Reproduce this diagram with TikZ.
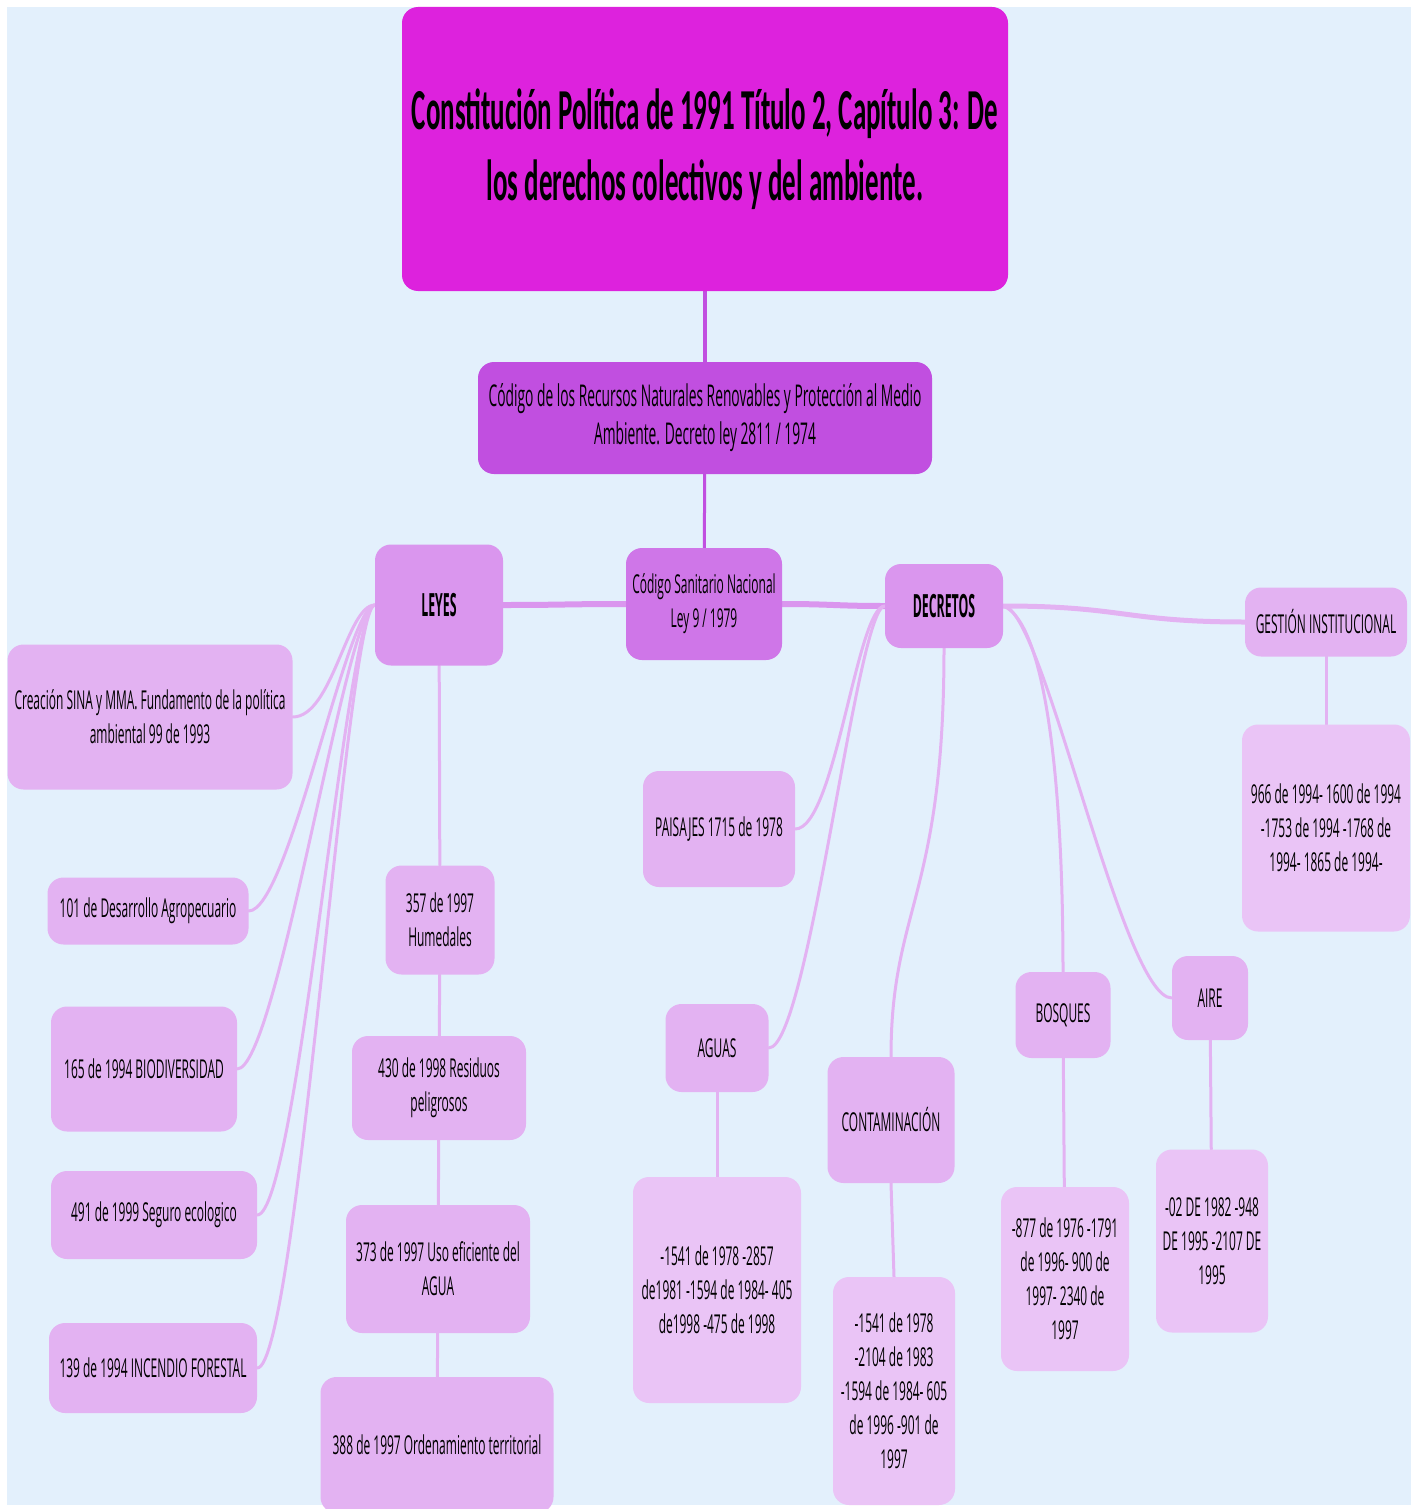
\documentclass[tikz,border=0pt]{standalone}
\usepackage{fontspec}
\setmainfont{Open Sans}[FakeStretch=0.46]
\newfontfamily\titlefont{Carlito}[FakeStretch=0.465]
\newfontfamily\headfont{Open Sans}[FakeStretch=0.385]
\usetikzlibrary{positioning, backgrounds}
\definecolor{skyback}{RGB}{227,240,252}
\definecolor{titlemagenta}{RGB}{221,34,221}
\definecolor{codepurple}{RGB}{193,79,224}
\definecolor{healthpurple}{RGB}{207,118,232}
\definecolor{branchlilac}{RGB}{218,150,238}
\definecolor{twiglilac}{RGB}{227,178,242}
\definecolor{leaflilac}{RGB}{234,196,246}

\tikzset{
  box/.style={rounded corners=16pt, align=center, inner sep=2pt, text=black,
    font=\fontsize{26}{34}\selectfont},
  headbox/.style={box, fill=branchlilac, font=\headfont\bfseries\fontsize{32}{36}\selectfont},
  twigbox/.style={box, fill=twiglilac},
  leafbox/.style={box, fill=leaflilac},
  twig/.style={draw=twiglilac, line width=3pt, line cap=round},
  branch/.style={draw=branchlilac, line width=6pt, line cap=round}
}

\begin{document}
\begin{tikzpicture}[x=1pt, y=-1pt]
  \useasboundingbox (0,0) rectangle (1418,1509);
  \clip (0,0) rectangle (1418,1509);
  \begin{scope}[on background layer]
    \fill[white] (0,0) rectangle (1418,1509);
    \fill[skyback] (7,7) rectangle (1411,1505);
  \end{scope}

  % top of the map
  \node[box, fill=titlemagenta, minimum width=606pt, minimum height=284pt,
    font=\titlefont\bfseries\fontsize{58}{71}\selectfont] (titulo) at (705,149)
    {Constitución Política de 1991 Título 2, Capítulo 3: De\\ los derechos colectivos y del ambiente.};
  \node[box, fill=codepurple, minimum width=454pt, minimum height=112pt,
    font=\fontsize{30}{38}\selectfont] (codigo) at (705,418)
    {Código de los Recursos Naturales Renovables y Protección al Medio\\ Ambiente. Decreto ley 2811 / 1974};
  \node[box, fill=healthpurple, minimum width=156pt, minimum height=112pt] (sanitario) at (704,604)
    {Código Sanitario Nacional\\ Ley 9 / 1979};
  \node[headbox, minimum width=128pt, minimum height=121pt] (leyes) at (439,605) {LEYES};
  \node[headbox, minimum width=118pt, minimum height=84pt] (decretos) at (944,606) {DECRETOS};

  % leyes
  \node[twigbox, minimum width=285pt, minimum height=145pt] (sina) at (150,717)
    {Creación SINA y MMA. Fundamento de la política\\ ambiental 99 de 1993};
  \node[twigbox, minimum width=201pt, minimum height=67pt] (agro) at (148,911) {101 de Desarrollo Agropecuario};
  \node[twigbox, minimum width=186pt, minimum height=125pt] (biodiv) at (144,1069) {165 de 1994 BIODIVERSIDAD};
  \node[twigbox, minimum width=206pt, minimum height=88pt] (seguro) at (154,1215) {491 de 1999 Seguro ecologico};
  \node[twigbox, minimum width=208pt, minimum height=90pt] (incendio) at (153,1368) {139 de 1994 INCENDIO FORESTAL};
  \node[twigbox, minimum width=109pt, minimum height=109pt] (humedales) at (440,920) {357 de 1997\\ Humedales};
  \node[twigbox, minimum width=174pt, minimum height=104pt] (residuos) at (439,1088) {430 de 1998 Residuos\\ peligrosos};
  \node[twigbox, minimum width=184pt, minimum height=128pt] (agua) at (438,1269) {373 de 1997 Uso eficiente del\\ AGUA};
  \node[twigbox, minimum width=233pt, minimum height=136pt] (ordenamiento) at (437,1445) {388 de 1997 Ordenamiento territorial};

  % decretos
  \node[twigbox, minimum width=162pt, minimum height=69pt] (gestion) at (1326,622) {GESTIÓN INSTITUCIONAL};
  \node[leafbox, minimum width=168pt, minimum height=207pt] (gestionlista) at (1326,828)
    {966 de 1994- 1600 de 1994\\ -1753 de 1994 -1768 de\\ 1994- 1865 de 1994-};
  \node[twigbox, minimum width=152pt, minimum height=116pt] (paisajes) at (719,829) {PAISAJES 1715 de 1978};
  \node[twigbox, minimum width=103pt, minimum height=88pt] (aguas) at (717,1048) {AGUAS};
  \node[leafbox, minimum width=168pt, minimum height=226pt] (aguaslista) at (717,1290)
    {-1541 de 1978 -2857\\ de1981 -1594 de 1984- 405\\ de1998 -475 de 1998};
  \node[twigbox, minimum width=127pt, minimum height=126pt] (contaminacion) at (891,1120) {CONTAMINACIÓN};
  \node[leafbox, minimum width=122pt, minimum height=228pt] (contaminacionlista) at (894,1391)
    {-1541 de 1978\\ -2104 de 1983\\ -1594 de 1984- 605\\ de 1996 -901 de\\ 1997};
  \node[twigbox, minimum width=95pt, minimum height=86pt] (bosques) at (1063,1015) {BOSQUES};
  \node[leafbox, minimum width=128pt, minimum height=184pt] (bosqueslista) at (1065,1279)
    {-877 de 1976 -1791\\ de 1996- 900 de\\ 1997- 2340 de\\ 1997};
  \node[twigbox, minimum width=76pt, minimum height=84pt] (aire) at (1210,998) {AIRE};
  \node[leafbox, minimum width=112pt, minimum height=183pt] (airelista) at (1212,1241)
    {-02 DE 1982 -948\\ DE 1995 -2107 DE\\ 1995};

  \begin{scope}[on background layer]
    \draw[draw=codepurple, line width=4pt] (titulo) -- (codigo);
    \draw[draw=codepurple, line width=3pt] (codigo) -- (sanitario);
    \draw[branch] (sanitario.west) .. controls +(-60,0) and +(60,0) .. (leyes.east);
    \draw[branch] (sanitario.east) .. controls +(50,0) and +(-50,0) .. (decretos.west);
    \draw[twig, line width=5pt] (decretos.east) .. controls +(120,0) and +(-120,0) .. (gestion.west);
    \draw[twig] (gestion) -- (gestionlista);
    \foreach \kid in {sina,agro,biodiv,seguro,incendio}
      \draw[twig] (leyes.west) .. controls +(-28,0) and ([xshift=40pt]\kid.east) .. (\kid.east);
    \draw[twig] (leyes) -- (humedales) -- (residuos) -- (agua) -- (ordenamiento);
    \foreach \kid in {paisajes,aguas}
      \draw[twig] (decretos.west) .. controls +(-28,0) and ([xshift=40pt]\kid.east) .. (\kid.east);
    \draw[twig] (decretos.south) .. controls +(0,250) and +(0,-150) .. (contaminacion.north);
    \draw[twig] (decretos.east) .. controls +(37,14) and +(0,-222) .. (bosques.north);
    \draw[twig] (decretos.east) .. controls +(40,0) and ([xshift=-50pt]aire.west) .. (aire.west);
    \draw[twig] (aguas) -- (aguaslista);
    \draw[twig] (contaminacion.south) -- (contaminacionlista.north);
    \draw[twig] (bosques) -- (bosqueslista);
    \draw[twig] (aire) -- (airelista);
  \end{scope}
\end{tikzpicture}
\end{document}
